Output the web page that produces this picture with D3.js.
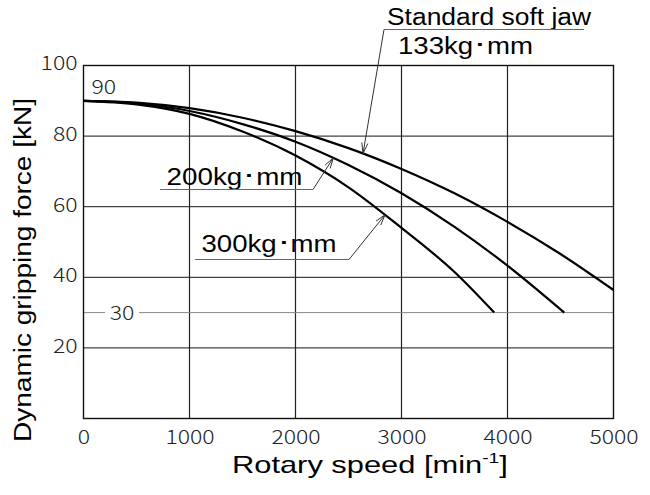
<!DOCTYPE html>
<html><head><meta charset="utf-8">
<script src="https://cdn.jsdelivr.net/npm/d3@7"></script>
<style>
body{margin:0;background:#fff;}
svg{display:block;}
</style></head><body>
<svg id="c" width="650" height="495"></svg>
<script>
// Data
const speeds133 = [0, 500, 1000, 1500, 2000, 2500, 3000, 3500, 4000, 4500, 5000];
const force133  = [90, 89.5, 87.9, 85.2, 81.4, 76.6, 70.7, 63.8, 55.7, 46.6, 36.4];
const speeds200 = [0, 500, 1000, 1500, 2000, 2500, 3000, 3500, 4000, 4536];
const force200  = [90, 89.3, 87.1, 83.4, 78.4, 71.8, 63.8, 54.3, 43.3, 30];
const speeds300 = [0, 500, 1000, 1500, 2000, 2500, 3000, 3500, 3875];
const force300  = [90, 89.0, 86.3, 81.3, 74.5, 65.5, 54, 41.5, 30];
const xTicks = [0, 1000, 2000, 3000, 4000, 5000];
const yTicks = [20, 40, 60, 80, 100];
const yGrid = [20, 40, 60, 80];
const xGrid = [1000, 2000, 3000, 4000];
const refLine = 30;
const startLabel = 90;
const labelTexts = ["Standard soft jaw", "133kg･mm", "200kg･mm", "300kg･mm"];
const tipSpeeds = [2637, 2357, 2845];

const svg = d3.select("#c");
const L = 83.5, R = 613.5, T = 65.5, B = 418.5;
const x = d3.scaleLinear().domain([0, 5000]).range([L, R]);
const y = d3.scaleLinear().domain([0, 100]).range([B, T]);
const tickFont = "'Noto Sans CJK JP', 'Noto Sans', sans-serif";
const mainFont = "'Liberation Sans', Arial, sans-serif";
const tickStretch = 1.15;

// stretch a text element horizontally so it spans targetW starting at x0
function fitWidth(sel, x0, targetW) {
  const w = sel.node().getBBox().width;
  const s = targetW / w;
  const prev = sel.attr("transform") || "";
  sel.attr("transform", `translate(${x0},0) scale(${s},1) translate(${-x0},0) ${prev}`);
}
// widen a light-number label around its anchor x
function widen(sel, ax) {
  sel.attr("transform", `translate(${ax},0) scale(${tickStretch},1) translate(${-ax},0)`);
}

// grid
svg.append("g").selectAll("line").data(yGrid).join("line")
  .attr("x1", L).attr("x2", R).attr("y1", d => y(d)).attr("y2", d => y(d))
  .attr("stroke", "#444").attr("stroke-width", 1.2);
svg.append("g").selectAll("line").data(xGrid).join("line")
  .attr("y1", T).attr("y2", B).attr("x1", d => x(d)).attr("x2", d => x(d))
  .attr("stroke", "#222").attr("stroke-width", 1.2);

// 30 reference line with gap for label
const gapA = 105, gapB = 139;
svg.append("line").attr("x1", L).attr("x2", gapA).attr("y1", y(refLine)).attr("y2", y(refLine))
  .attr("stroke", "#888").attr("stroke-width", 1);
svg.append("line").attr("x1", gapB).attr("x2", R).attr("y1", y(refLine)).attr("y2", y(refLine))
  .attr("stroke", "#888").attr("stroke-width", 1);
const t30 = svg.append("text").attr("x", (gapA + gapB) / 2).attr("y", y(refLine)).attr("dy", "0.36em")
  .attr("text-anchor", "middle").attr("font-family", tickFont).attr("font-weight", 300)
  .attr("font-size", 20).attr("fill", "#222").text(refLine);
widen(t30, (gapA + gapB) / 2);

// frame
svg.append("rect").attr("x", L).attr("y", T).attr("width", R - L).attr("height", B - T)
  .attr("fill", "none").attr("stroke", "#111").attr("stroke-width", 1.4);

// axes (ticks hidden, labels only)
const xAxis = svg.append("g").attr("transform", `translate(0,${B})`)
  .call(d3.axisBottom(x).tickValues(xTicks).tickSize(0).tickPadding(11).tickFormat(d3.format("d")));
xAxis.select(".domain").remove();
xAxis.selectAll("text").attr("font-family", tickFont).attr("font-weight", 300)
  .attr("font-size", 20).attr("fill", "#222")
  .attr("transform", `scale(${tickStretch},1)`);
const yAxis = svg.append("g").attr("transform", `translate(${L},0)`)
  .call(d3.axisLeft(y).tickValues(yTicks).tickSize(0).tickPadding(6));
yAxis.select(".domain").remove();
yAxis.selectAll("text").attr("font-family", tickFont).attr("font-weight", 300)
  .attr("font-size", 20).attr("fill", "#222").attr("dy", "0.22em");
yAxis.selectAll(".tick text").each(function () {
  const ax = +d3.select(this).attr("x");
  widen(d3.select(this), ax);
});

// 90 label
const t90 = svg.append("text").attr("x", x(0) + 8).attr("y", y(startLabel) - 7)
  .attr("font-family", tickFont).attr("font-weight", 300).attr("font-size", 20)
  .attr("fill", "#222").text(startLabel);
widen(t90, x(0) + 8);

// curves
const series = [
  d3.zip(speeds133, force133),
  d3.zip(speeds200, force200),
  d3.zip(speeds300, force300)
];
const line = d3.line().x(d => x(d[0])).y(d => y(d[1])).curve(d3.curveMonotoneX);
const paths = svg.append("g").selectAll("path").data(series).join("path")
  .attr("d", line).attr("fill", "none").attr("stroke", "#000").attr("stroke-width", 2.2);

// point on the drawn path at a given screen x
function pointOnPath(node, px) {
  let lo = 0, hi = node.getTotalLength();
  for (let k = 0; k < 40; k++) {
    const mid = (lo + hi) / 2;
    if (node.getPointAtLength(mid).x < px) lo = mid; else hi = mid;
  }
  return node.getPointAtLength(lo);
}

const ann = svg.append("g");
function arrow(x0, y0, x1, y1) {
  ann.append("line").attr("x1", x0).attr("y1", y0).attr("x2", x1).attr("y2", y1)
    .attr("stroke", "#333").attr("stroke-width", 1);
  const a = Math.atan2(y1 - y0, x1 - x0), len = 11, spread = 0.28;
  const p = d => [x1 - len * Math.cos(a + d), y1 - len * Math.sin(a + d)];
  const p1 = p(spread), p2 = p(-spread);
  ann.append("path").attr("d", `M${p1[0]},${p1[1]}L${x1},${y1}L${p2[0]},${p2[1]}`)
    .attr("fill", "none").attr("stroke", "#333").attr("stroke-width", 1);
}
function annText(str, x0, base, w) {
  const t = ann.append("text").attr("x", x0).attr("y", base).attr("font-family", mainFont)
    .attr("font-size", 24).attr("fill", "#000").text(str);
  fitWidth(t, x0, w);
}
const pNodes = paths.nodes();
// Standard soft jaw / 133
{
  const tip = pointOnPath(pNodes[0], x(tipSpeeds[0]));
  annText(labelTexts[0], 387, 25, 205);
  ann.append("line").attr("x1", 384).attr("x2", 584).attr("y1", 29.5).attr("y2", 29.5)
    .attr("stroke", "#666").attr("stroke-width", 1.2);
  annText(labelTexts[1], 398, 54, 135);
  arrow(384, 29.5, tip.x, tip.y);
}
// 200
{
  const tip = pointOnPath(pNodes[1], x(tipSpeeds[1]));
  annText(labelTexts[2], 166.5, 185, 136);
  ann.append("line").attr("x1", 160).attr("x2", 313).attr("y1", 189.5).attr("y2", 189.5)
    .attr("stroke", "#666").attr("stroke-width", 1.2);
  arrow(313, 189.5, tip.x, tip.y);
}
// 300
{
  const tip = pointOnPath(pNodes[2], x(tipSpeeds[2]));
  annText(labelTexts[3], 201.5, 252, 135);
  ann.append("line").attr("x1", 195).attr("x2", 349).attr("y1", 259.5).attr("y2", 259.5)
    .attr("stroke", "#666").attr("stroke-width", 1.2);
  arrow(349, 259.5, tip.x, tip.y);
}

// axis titles
const xt = svg.append("text").attr("x", 232).attr("y", 473)
  .attr("font-family", mainFont).attr("font-size", 24).attr("fill", "#000");
xt.append("tspan").text("Rotary speed [min");
xt.append("tspan").attr("dy", -10).attr("font-size", 15).text("-1");
xt.append("tspan").attr("dy", 10).text("]");
fitWidth(xt, 232, 276);

const yt = svg.append("text").attr("x", 0).attr("y", 0)
  .attr("font-family", mainFont).attr("font-size", 24).attr("fill", "#000")
  .text("Dynamic gripping force [kN]");
const yw = yt.node().getBBox().width;
const ys = 344 / yw;
yt.attr("text-anchor", "middle")
  .attr("transform", `translate(31,270) rotate(-90) scale(${ys},1)`);
</script>
</body></html>
